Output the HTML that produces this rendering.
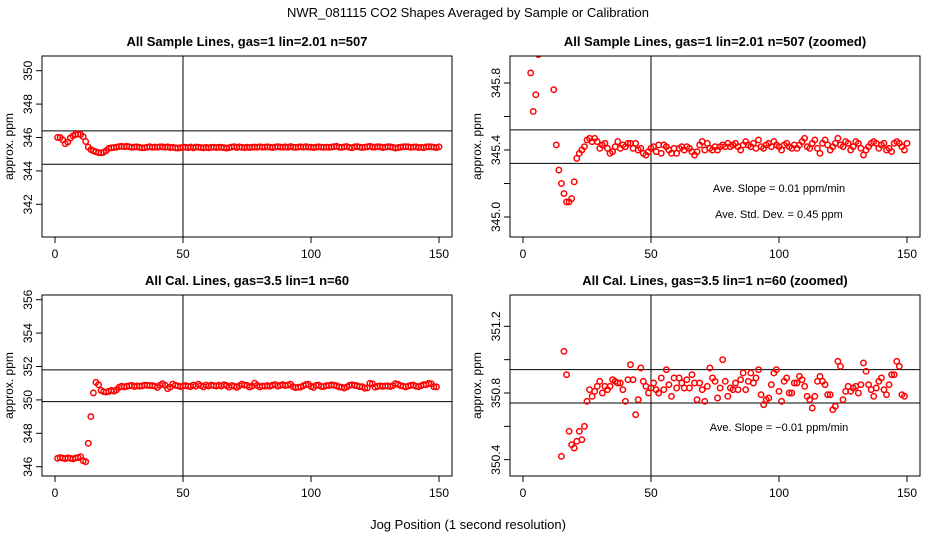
<!DOCTYPE html>
<html><head><meta charset="utf-8"><style>
html,body{margin:0;padding:0;background:#fff;overflow:hidden;width:936px;height:540px;}
svg{display:block;font-family:"Liberation Sans",sans-serif;}
</style></head><body>
<svg id="c" width="936" height="540" viewBox="0 0 936 540">
<text x="468" y="17" text-anchor="middle" font-size="13">NWR_081115  CO2 Shapes Averaged by Sample or Calibration</text>
<text x="468" y="529" text-anchor="middle" font-size="13">Jog Position (1 second resolution)</text>
</svg>
<script>
const xTicks=[0,50,100,150];
const sampleVals=[346.00,346.00,345.86,345.63,345.73,345.97,346.10,346.18,346.20,346.18,346.05,345.76,345.43,345.28,345.20,345.14,345.09,345.09,345.11,345.21,345.35,345.38,345.40,345.42,345.46,345.47,345.45,345.47,345.45,345.41,345.43,345.44,345.41,345.38,345.39,345.42,345.45,345.41,345.43,345.42,345.44,345.44,345.41,345.44,345.40,345.41,345.38,345.37,345.39,345.41,345.42,345.39,345.43,345.38,345.43,345.42,345.40,345.38,345.41,345.38,345.41,345.42,345.40,345.42,345.41,345.39,345.37,345.39,345.43,345.45,345.40,345.44,345.41,345.40,345.42,345.40,345.42,345.43,345.42,345.44,345.42,345.43,345.44,345.42,345.40,345.43,345.45,345.43,345.42,345.44,345.41,345.46,345.42,345.41,345.43,345.44,345.42,345.45,345.43,345.42,345.40,345.43,345.44,345.42,345.41,345.43,345.41,345.43,345.45,345.47,345.42,345.41,345.44,345.46,345.41,345.38,345.44,345.46,345.43,345.40,345.42,345.44,345.47,345.43,345.42,345.45,345.44,345.40,345.42,345.45,345.44,345.41,345.37,345.40,345.42,345.44,345.45,345.44,345.41,345.43,345.44,345.40,345.41,345.39,345.44,345.45,345.44,345.42,345.40,345.44];
const calVals=[346.50,346.55,346.52,346.48,346.53,346.50,346.47,346.52,346.55,346.60,346.35,346.30,347.40,349.00,350.42,351.05,350.91,350.57,350.49,350.47,350.51,350.57,350.52,350.60,350.75,350.82,350.78,350.81,
350.84,350.87,350.80,350.84,350.82,350.84,350.88,350.87,350.86,350.86,350.82,350.75,350.88,350.97,350.88,350.67,350.76,350.95,350.87,
350.84,350.80,350.83,350.86,350.82,350.80,350.89,350.82,350.94,350.85,350.78,350.89,350.83,350.89,350.86,350.83,350.88,350.83,350.91,350.86,
350.76,350.86,350.82,350.75,350.84,350.95,350.89,350.87,350.77,350.83,351.00,350.87,350.78,350.83,350.82,350.86,350.82,350.88,350.92,350.82,
350.87,350.92,350.86,350.89,350.94,350.79,350.73,350.76,350.77,350.85,350.92,350.94,350.81,350.75,350.87,350.89,350.80,350.80,350.86,350.86,
350.90,350.88,350.84,350.78,350.76,350.71,350.78,350.87,350.90,350.87,350.85,350.79,350.79,350.70,350.72,350.99,350.96,350.76,350.81,350.84,
350.81,350.83,350.84,350.80,350.85,350.98,350.93,350.85,350.82,350.78,350.83,350.87,350.89,350.82,350.79,350.85,350.91,350.91,350.99,350.96,350.79,350.78];
const panels=[
 {name:'sample-all',title:'All Sample Lines, gas=1 lin=2.01 n=507',x0:42,x1:452,y0:56,y1:237,vals:sampleVals,yRef:350,yRefPx:70.7,ppu:16.7,ticks:[342,344,346,348,350],labels:['342','344','346','348','350'],hl:[346.4,344.4],notes:[]},
 {name:'sample-zoomed',title:'All Sample Lines, gas=1 lin=2.01 n=507 (zoomed)',x0:510,x1:920,y0:56,y1:237,vals:sampleVals,yRef:345.4,yRefPx:150,ppu:167.5,ticks:[345.0,345.2,345.4,345.6,345.8],labels:['345.0','','345.4','','345.8'],hl:[345.52,345.32],notes:[['Ave. Slope =  0.01  ppm/min',192],['Ave. Std. Dev. =  0.45  ppm',218]]},
 {name:'cal-all',title:'All Cal. Lines, gas=3.5 lin=1 n=60',x0:42,x1:452,y0:295,y1:476,vals:calVals,yRef:356,yRefPx:299.7,ppu:16.7,ticks:[346,348,350,352,354,356],labels:['346','348','350','352','354','356'],hl:[351.8,349.9],notes:[]},
 {name:'cal-zoomed',title:'All Cal. Lines, gas=3.5 lin=1 n=60 (zoomed)',x0:510,x1:920,y0:295,y1:476,vals:calVals,yRef:350.8,yRefPx:393,ppu:166.7,ticks:[350.4,350.6,350.8,351.0,351.2],labels:['350.4','','350.8','','351.2'],hl:[350.94,350.74],notes:[['Ave. Slope =  \u22120.01  ppm/min',431]]}
];
const NS='http://www.w3.org/2000/svg';
const svg=document.getElementById('c');
function mk(t,a,p){const e=document.createElementNS(NS,t);for(const k in a)e.setAttribute(k,a[k]);(p||svg).appendChild(e);return e;}
panels.forEach((P,pi)=>{
 const g=mk('g',{});
 
 
 const xs=v=>P.x0+13+v*((P.x1-P.x0-26)/150);
 const ys=v=>P.yRefPx-(v-P.yRef)*P.ppu;
 const t=mk('text',{x:(P.x0+P.x1)/2,y:P.y0-10,'text-anchor':'middle','font-size':'13','font-weight':'bold'},g);t.textContent=P.title;
 
 
 const cid='clip'+pi;
 const cp=mk('clipPath',{id:cid},g);mk('rect',{x:P.x0,y:P.y0,width:P.x1-P.x0,height:P.y1-P.y0},cp);
 const yl=mk('text',{x:0,y:0,'text-anchor':'middle','font-size':'12',transform:`translate(${P.x0-29},${(P.y0+P.y1)/2}) rotate(-90)`},g);yl.textContent='approx. ppm';
 
 
 P.ticks.forEach((v,i)=>{const y=ys(v);mk('line',{x1:P.x0-6,x2:P.x0,y1:y,y2:y,stroke:'#000'},g);
  if(P.labels[i]){const l=mk('text',{x:0,y:0,'text-anchor':'middle','font-size':'12',transform:`translate(${P.x0-10},${y}) rotate(-90)`},g);l.textContent=P.labels[i];
   
   }});
 xTicks.forEach(v=>{const x=xs(v);mk('line',{x1:x,x2:x,y1:P.y1,y2:P.y1+6,stroke:'#000'},g);
  const l=mk('text',{x:x,y:P.y1+21,'text-anchor':'middle','font-size':'12'},g);l.textContent=v;
  
  });
 P.hl.forEach(v=>{const y=ys(v);mk('line',{x1:P.x0,x2:P.x1,y1:y,y2:y,stroke:'#000'},g);});
 mk('line',{x1:xs(50),x2:xs(50),y1:P.y0,y2:P.y1,stroke:'#000'},g);
 const pts=mk('g',{'clip-path':`url(#${cid})`},g);
 
 
 P.vals.forEach((v,i)=>{const c=mk('circle',{cx:xs(i+1),cy:ys(v),r:2.7,fill:'none',stroke:'#f00','stroke-width':1.5},pts);
  
  });
 P.notes.forEach(n=>{const l=mk('text',{x:xs(100),y:n[1],'text-anchor':'middle','font-size':'11'},g);l.textContent=n[0];
  
  });
 mk('rect',{x:P.x0,y:P.y0,width:P.x1-P.x0,height:P.y1-P.y0,fill:'none',stroke:'#000'},g);
});
</script>
</body></html>
